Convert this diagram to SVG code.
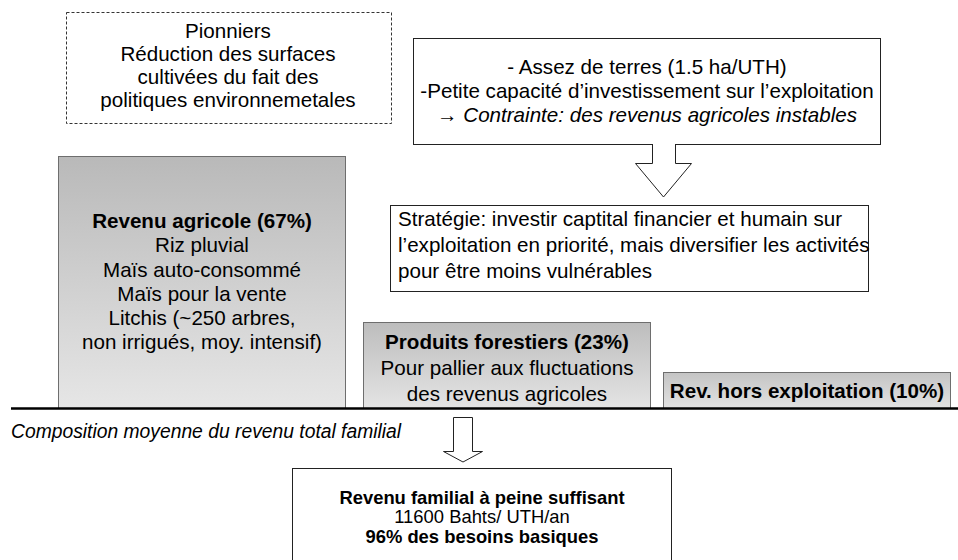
<svg xmlns="http://www.w3.org/2000/svg" width="958" height="560" viewBox="0 0 958 560">
<defs>
<linearGradient id="g1" x1="0" y1="0" x2="0" y2="1"><stop offset="0" stop-color="#b9b9b9"/><stop offset="1" stop-color="#e6e6e6"/></linearGradient>
<linearGradient id="g2" x1="0" y1="0" x2="0" y2="1"><stop offset="0" stop-color="#bdbdbd"/><stop offset="1" stop-color="#e4e4e4"/></linearGradient>
<linearGradient id="g3" x1="0" y1="0" x2="0" y2="1"><stop offset="0" stop-color="#c4c4c4"/><stop offset="1" stop-color="#e2e2e2"/></linearGradient>
</defs>
<style>
text{font-family:"Liberation Sans",Arial,sans-serif;font-size:20.6px;fill:#000}
.c{text-anchor:middle}
.b{font-weight:bold}
.i{font-style:italic}
.box{fill:#fff;stroke:#222;stroke-width:1}
.gbox{stroke:#6e6e6e;stroke-width:1}
.arr{fill:#fff;stroke:#222;stroke-width:1}
</style>
<rect width="958" height="560" fill="#fff"/>

<g id="pionniers">
<rect x="66.5" y="12.5" width="325" height="111" fill="#fff" stroke="#333" stroke-width="1" stroke-dasharray="3,2"/>
<text class="c"><tspan x="228" y="38">Pionniers</tspan><tspan x="228" y="61">Réduction des surfaces</tspan><tspan x="228" y="84">cultivées du fait des</tspan><tspan x="228" y="107">politiques environnemetales</tspan></text>
</g>

<g id="contrainte">
<rect class="box" x="413.5" y="38.5" width="467" height="106"/>
<text class="c"><tspan x="647" y="74">- Assez de terres (1.5 ha/UTH)</tspan><tspan x="647" y="98">-Petite capacité d’investissement sur l’exploitation</tspan><tspan x="647" y="122">→ <tspan class="i">Contrainte: des revenus agricoles instables</tspan></tspan></text>
</g>

<g id="strategie">
<rect class="box" x="390.5" y="205.5" width="478" height="86"/>
<text><tspan x="398" y="226">Stratégie: investir captital financier et humain sur</tspan><tspan x="398" y="252">l’exploitation en priorité, mais diversifier les activités</tspan><tspan x="398" y="278">pour être moins vulnérables</tspan></text>
</g>

<g id="revenu-agricole">
<rect class="gbox" x="58.5" y="156.5" width="287" height="252" fill="url(#g1)"/>
<text class="c"><tspan x="202" y="228" class="b">Revenu agricole (67%)</tspan><tspan x="202" y="252">Riz pluvial</tspan><tspan x="202" y="277">Maïs auto-consommé</tspan><tspan x="202" y="301">Maïs pour la vente</tspan><tspan x="202" y="325">Litchis (~250 arbres,</tspan><tspan x="202" y="349">non irrigués, moy. intensif)</tspan></text>
</g>

<g id="produits-forestiers">
<rect class="gbox" x="363.5" y="322.5" width="287" height="86" fill="url(#g2)"/>
<text class="c"><tspan x="507" y="349" class="b">Produits forestiers (23%)</tspan><tspan x="507" y="375">Pour pallier aux fluctuations</tspan><tspan x="507" y="401">des revenus agricoles</tspan></text>
</g>

<g id="hors-exploitation">
<rect class="gbox" x="663.5" y="372.5" width="287" height="36" fill="url(#g3)"/>
<text class="c b" x="807" y="398">Rev. hors exploitation (10%)</text>
</g>

<g id="axe">
<line x1="11" y1="408.5" x2="958" y2="408.5" stroke="#000" stroke-width="2.5"/>
<text class="i" style="font-size:19.3px" x="11" y="438">Composition moyenne du revenu total familial</text>
</g>

<g id="revenu-familial">
<rect class="box" x="292.5" y="468.5" width="379" height="100"/>
<text class="c" style="font-size:18.4px"><tspan x="482" y="504" class="b">Revenu familial à peine suffisant</tspan><tspan x="482" y="523">11600 Bahts/ UTH/an</tspan><tspan x="482" y="543" class="b">96% des besoins basiques</tspan></text>
</g>

<g id="connecteurs">
<path class="arr" d="M652.5,144 V163.5 H635.5 L663.5,197 L691.5,163.5 H675.5 V144"/>
<path class="arr" d="M453.5,417.5 H472.5 V451.5 H482.5 L463,462 L443.5,451.5 H453.5 Z"/>
</g>
</svg>
